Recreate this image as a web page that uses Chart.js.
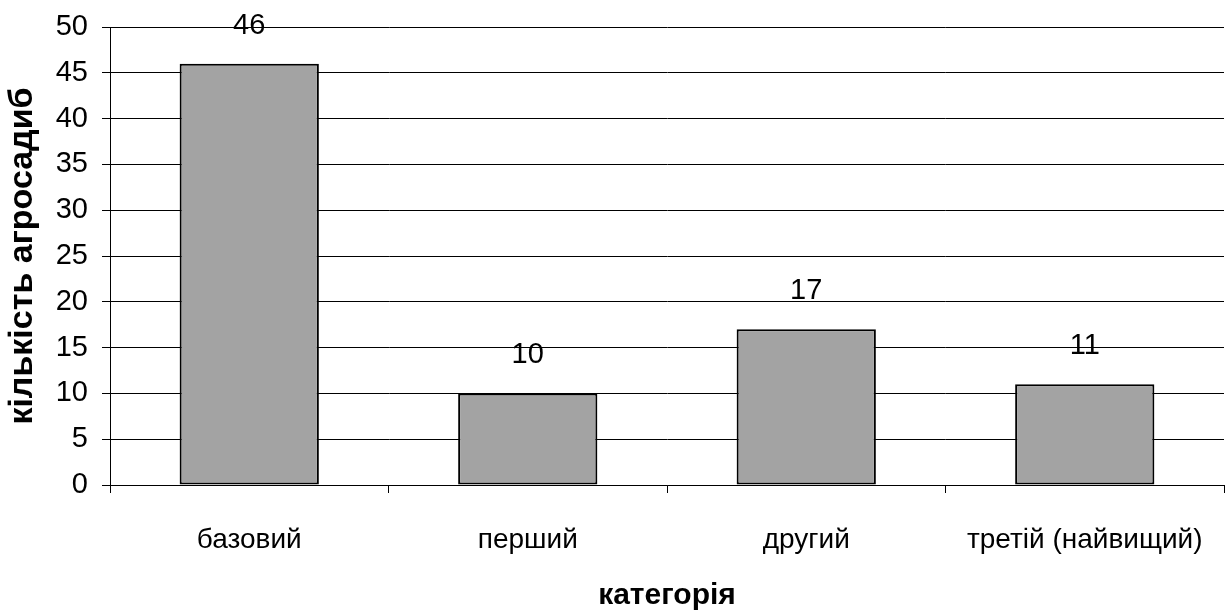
<!DOCTYPE html>
<html>
<head>
<meta charset="utf-8">
<script src="https://cdn.jsdelivr.net/npm/chart.js@4/dist/chart.umd.min.js"></script>
<style>
  html, body { margin: 0; padding: 0; background: #fff; }
  #wrap { width: 1232px; height: 612px; }
</style>
</head>
<body>
<div id="wrap"><canvas id="chart"></canvas></div>
<script>
// Data
const categories = ['базовий', 'перший', 'другий', 'третій (найвищий)'];
const counts = [46, 10, 17, 11];
const yTitle = 'кількість агросадиб';
const xTitle = 'категорія';

const font = 'Liberation Sans, Arial, sans-serif';

// Value labels above bars
const valueLabels = {
  id: 'valueLabels',
  afterDatasetsDraw(chart) {
    const ctx = chart.ctx;
    const meta = chart.getDatasetMeta(0);
    ctx.save();
    ctx.font = '29px ' + font;
    ctx.fillStyle = '#000';
    ctx.textAlign = 'center';
    ctx.textBaseline = 'middle';
    meta.data.forEach((bar, i) => {
      ctx.fillText(String(counts[i]), bar.x, bar.y - 38);
    });
    ctx.restore();
  }
};

new Chart(document.getElementById('chart'), {
  type: 'bar',
  data: {
    labels: categories,
    datasets: [{
      data: counts,
      backgroundColor: '#a3a3a3',
      borderColor: '#000',
      borderWidth: 2,
      borderSkipped: false,
      barPercentage: 0.5,
      categoryPercentage: 1
    }]
  },
  options: {
    responsive: true,
    maintainAspectRatio: false,
    animation: false,
    layout: { autoPadding: false, padding: { top: 27, right: 8, bottom: 0, left: 0 } },
    plugins: {
      legend: { display: false },
      tooltip: { enabled: false }
    },
    scales: {
      y: {
        min: 0,
        max: 50,
        ticks: {
          stepSize: 5,
          color: '#000',
          padding: 14,
          font: { family: font, size: 29 }
        },
        grid: { color: '#000', lineWidth: 1, tickLength: 8 },
        border: { color: '#000', width: 1 },
        title: {
          display: true,
          text: yTitle,
          color: '#000',
          font: { family: font, size: 34, weight: 'bold' },
          padding: { top: 2, bottom: 4 }
        },
        afterFit(scale) {
          scale.width = 110;
          scale.paddingTop = 0;
          scale.paddingBottom = 0;
        }
      },
      x: {
        offset: true,
        ticks: {
          color: '#000',
          padding: 30,
          font: { family: font, size: 28 }
        },
        grid: {
          offset: true,
          drawOnChartArea: false,
          color: '#000',
          tickLength: 8
        },
        border: { color: '#000', width: 1 },
        title: {
          display: true,
          text: xTitle,
          color: '#000',
          font: { family: font, size: 30, weight: 'bold' },
          padding: { top: 10, bottom: -2 }
        },
        afterFit(scale) {
          scale.height = 127;
          scale.paddingLeft = 0;
          scale.paddingRight = 0;
        }
      }
    }
  },
  plugins: [valueLabels]
});
</script>
</body>
</html>
